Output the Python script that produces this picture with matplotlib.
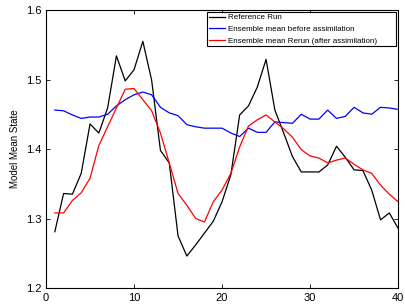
import numpy as np
import matplotlib
matplotlib.use("Agg")
import matplotlib.pyplot as plt

plt.rcParams["font.family"] = ["Liberation Sans", "DejaVu Sans"]

steps = np.arange(1, 41)
reference_run = [1.281, 1.336, 1.335, 1.365, 1.436, 1.423, 1.459, 1.534, 1.498, 1.514,
                 1.555, 1.499, 1.398, 1.380, 1.275, 1.246, 1.262, 1.279, 1.296, 1.324,
                 1.363, 1.449, 1.462, 1.489, 1.529, 1.456, 1.423, 1.389, 1.367, 1.367,
                 1.367, 1.377, 1.404, 1.388, 1.370, 1.369, 1.341, 1.298, 1.308, 1.286]
mean_before = [1.456, 1.455, 1.449, 1.444, 1.446, 1.446, 1.450, 1.462, 1.471, 1.478,
               1.482, 1.478, 1.460, 1.452, 1.448, 1.435, 1.432, 1.430, 1.430, 1.430,
               1.423, 1.418, 1.430, 1.424, 1.424, 1.439, 1.438, 1.437, 1.450, 1.443,
               1.443, 1.456, 1.444, 1.447, 1.460, 1.452, 1.450, 1.460, 1.459, 1.457]
mean_rerun = [1.308, 1.308, 1.326, 1.337, 1.358, 1.405, 1.432, 1.459, 1.486, 1.487,
              1.471, 1.455, 1.423, 1.380, 1.336, 1.319, 1.300, 1.295, 1.324, 1.341,
              1.365, 1.403, 1.433, 1.442, 1.449, 1.439, 1.429, 1.417, 1.399, 1.390,
              1.387, 1.380, 1.384, 1.387, 1.378, 1.370, 1.365, 1.348, 1.335, 1.324]

fig = plt.figure(figsize=(4.05, 3.05), dpi=100)
ax = fig.add_axes([0.1136, 0.0557, 0.8694, 0.9115])

ax.plot(steps, reference_run, color="black", lw=0.9, label="Reference Run")
ax.plot(steps, mean_before, color="blue", lw=0.9, label="Ensemble mean before assimilation")
ax.plot(steps, mean_rerun, color="red", lw=0.9, label="Ensemble mean Rerun (after assimilation)")

ax.set_xlim(0, 40)
ax.set_ylim(1.2, 1.6)
ax.set_xticks([0, 10, 20, 30, 40])
ax.set_yticks([1.2, 1.3, 1.4, 1.5, 1.6])
ax.tick_params(direction="in", top=True, right=True, labelsize=8, length=3, width=0.6)
for s in ax.spines.values():
    s.set_linewidth(0.8)
ax.set_ylabel("Model Mean State", fontsize=7)

# MATLAB-style legend box, stretched to the right edge
leg = ax.legend(loc="upper right", bbox_to_anchor=(0.457, 0.87, 0.538, 0.122),
                mode="expand", fontsize=5.75, fancybox=False, framealpha=1,
                edgecolor="black", borderaxespad=0, handlelength=2.1,
                labelspacing=0.5, borderpad=0.2, handletextpad=0.3)
leg.get_frame().set_linewidth(0.8)

fig.savefig("out.png", dpi=100)
